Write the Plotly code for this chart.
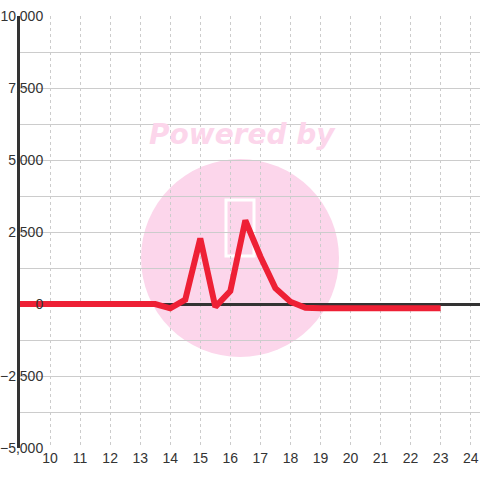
import plotly.graph_objects as go

# series values
x_vals = [9, 9.5, 10, 10.5, 11, 11.5, 12, 12.5, 13, 13.5, 14, 14.5, 15, 15.5, 16,
          16.5, 17, 17.5, 18, 18.5, 19, 19.5, 20, 20.5, 21, 21.5, 22, 22.5, 23]
y_vals = [0, 0, 0, 0, 0, 0, 0, 0, 0, 0, -150, 150, 2280, -100, 450,
          2900, 1650, 550, 80, -130, -150, -150, -150, -150, -150, -150, -150, -150, -150]
x_ticks = list(range(10, 25))
y_ticks = [-5000, -2500, 0, 2500, 5000, 7500, 10000]

fig = go.Figure()
fig.add_trace(go.Scatter(x=x_vals, y=y_vals, mode='lines',
                         line=dict(color='#ee2035', width=6), hoverinfo='skip'))

# watermark: pink disc + "Powered by"
fig.add_shape(type='circle', xref='paper', yref='paper', xsizemode='pixel', ysizemode='pixel',
              xanchor=(240 - 20) / 460, yanchor=(448 - 258) / 432,
              x0=-99, x1=99, y0=-99, y1=99,
              fillcolor='#fcd6eb', line=dict(width=0), layer='below')
fig.add_shape(type='rect', xref='paper', yref='paper', xsizemode='pixel', ysizemode='pixel',
              xanchor=(240 - 20) / 460, yanchor=(448 - 228) / 432,
              x0=-14, x1=14, y0=-28, y1=28,
              line=dict(color='white', width=3), layer='below')
fig.add_annotation(text='<b><i>Powered by</i></b>', xref='paper', yref='paper',
                   x=(242 - 20) / 460, y=(448 - 134) / 432, showarrow=False,
                   xanchor='center', yanchor='middle',
                   font=dict(family='DejaVu Sans', size=28, color='#fcd6eb'))

fig.update_layout(
    width=480, height=480,
    margin=dict(l=20, r=0, t=16, b=32),
    paper_bgcolor='white', plot_bgcolor='rgba(0,0,0,0)',
    showlegend=False,
    font=dict(family='Liberation Sans', size=14, color='#333'),
    xaxis=dict(range=[9, 24.31], tickmode='array', tickvals=x_ticks, automargin=False,
               showgrid=True, gridcolor='#cccccc', griddash='dot', gridwidth=1,
               zeroline=False, showline=False, ticks='', tickfont=dict(size=14, color='#333')),
    yaxis=dict(range=[-5000, 10000], tickmode='array', tickvals=y_ticks, tickformat=',',
               automargin=False,
               showgrid=True, gridcolor='#cccccc', gridwidth=1,
               minor=dict(dtick=1250, showgrid=True, gridcolor='#cccccc', gridwidth=1),
               zeroline=True, zerolinecolor='#333', zerolinewidth=3,
               showline=True, linecolor='#333', linewidth=3,
               ticks='', ticklabelstandoff=-29, tickfont=dict(size=14, color='#333')),
)

# drop the default 8px page margin so the 480x480 figure fills the window
fig.write_html("out.html", config={'displayModeBar': False},
               post_script="document.body.style.margin='0';document.body.style.overflow='hidden';")
